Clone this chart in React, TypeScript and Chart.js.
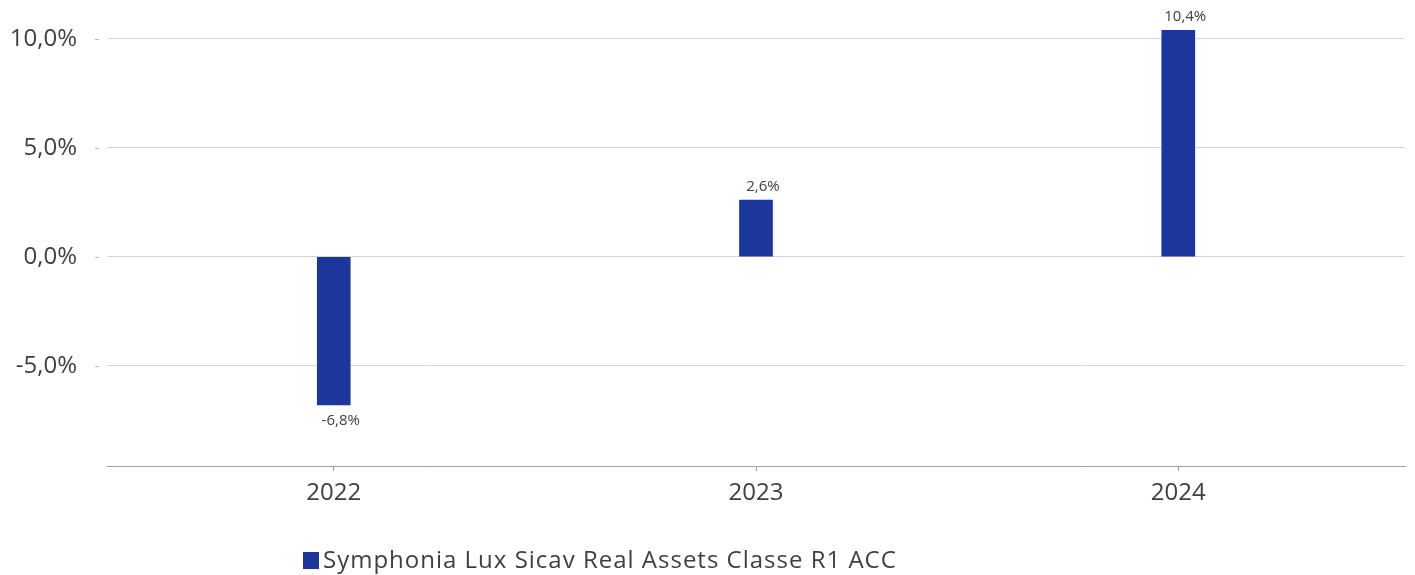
import { useEffect, useRef } from "react";
import { Chart, registerables } from "chart.js";

Chart.register(...registerables);

const years = ["2022", "2023", "2024"];
const returns = [-6.8, 2.6, 10.4];
const yTicks = [-5, 0, 5, 10];
const seriesLabel = "Symphonia Lux Sicav Real Assets Classe R1 ACC";
const yMin = -9.6;
const yMax = 10.4;
const xMin = -0.537;
const xMax = 2.537;

const barColor = "#1c369b";
const textColor = "#404040";
const fontFamily = "'Open Sans', 'DejaVu Sans', sans-serif";

const fmt = (v: number, d: number) => v.toFixed(d).replace(".", ",") + "%";

const yTickMarks = {
  id: "yTickMarks",
  afterDraw(chart: any) {
    const { ctx, chartArea, scales } = chart;
    ctx.save();
    ctx.strokeStyle = "#b8b8b8";
    ctx.lineWidth = 1;
    yTicks.forEach((v) => {
      const py = Math.round(scales.y.getPixelForValue(v)) + 0.5;
      ctx.beginPath();
      ctx.moveTo(chartArea.left - 12, py);
      ctx.lineTo(chartArea.left - 8, py);
      ctx.stroke();
    });
    ctx.restore();
  },
};

const dataLabels = {
  id: "dataLabels",
  afterDatasetsDraw(chart: any) {
    const { ctx } = chart;
    const meta = chart.getDatasetMeta(0);
    ctx.save();
    ctx.font = `15px ${fontFamily}`;
    ctx.fillStyle = textColor;
    ctx.textAlign = "center";
    ctx.textBaseline = "middle";
    meta.data.forEach((bar: any, i: number) => {
      const v = returns[i];
      const y = v >= 0 ? bar.y - 13 : bar.y + 16;
      ctx.fillText(fmt(v, 1), bar.x + 7, y);
    });
    ctx.restore();
  },
};

const customLegend = {
  id: "customLegend",
  afterDraw(chart: any) {
    const { ctx } = chart;
    const ds = chart.data.datasets[0];
    ctx.save();
    ctx.fillStyle = ds.backgroundColor;
    ctx.fillRect(295, 544, 16, 17);
    ctx.font = `24px ${fontFamily}`;
    (ctx as any).letterSpacing = "1px";
    ctx.fillStyle = textColor;
    ctx.textAlign = "left";
    ctx.textBaseline = "alphabetic";
    ctx.fillText(ds.label, 315, 560);
    ctx.restore();
  },
};

export default function App() {
  const ref = useRef<HTMLCanvasElement>(null);

  useEffect(() => {
    if (!ref.current) return;
    const chart = new Chart(ref.current, {
      type: "bar",
      data: {
        datasets: [
          {
            label: seriesLabel,
            data: returns.map((v, i) => ({ x: i, y: v })),
            backgroundColor: barColor,
            borderWidth: 0,
            barThickness: 33,
          } as any,
        ],
      },
      options: {
        animation: false,
        responsive: true,
        maintainAspectRatio: false,
        layout: { padding: { top: 22, right: 2, bottom: 0, left: 0 } },
        plugins: {
          legend: { display: false },
          tooltip: { enabled: false },
          title: { display: false },
        },
        scales: {
          x: {
            type: "linear",
            min: xMin,
            max: xMax,
            offset: false,
            afterBuildTicks: (axis: any) => {
              axis.ticks = years.map((_, i) => ({ value: i }));
            },
            afterFit: (axis: any) => {
              axis.height = 109;
              axis.paddingLeft = 0;
              axis.paddingRight = 0;
            },
            ticks: {
              callback: (v: any) => years[v as number],
              font: { size: 24, family: fontFamily },
              color: textColor,
              padding: 8,
              maxRotation: 0,
              autoSkip: false,
            },
            grid: {
              offset: false,
              drawOnChartArea: false,
              drawTicks: true,
              tickLength: 5,
              color: "#a0a0a0",
            },
            border: { display: true, color: "#a0a0a0", width: 1 },
          } as any,
          y: {
            min: yMin,
            max: yMax,
            afterBuildTicks: (axis: any) => {
              axis.ticks = yTicks.map((v) => ({ value: v }));
            },
            afterFit: (axis: any) => {
              axis.width = 99;
              axis.paddingTop = 0;
              axis.paddingBottom = 0;
            },
            ticks: {
              callback: (v: any) => fmt(v as number, 1),
              font: { size: 24, family: fontFamily },
              color: textColor,
              padding: 30,
            },
            grid: {
              color: "#d4d4d4",
              drawTicks: false,
            },
            border: { display: false },
          } as any,
        },
      },
      plugins: [yTickMarks, dataLabels, customLegend],
    });
    return () => chart.destroy();
  }, []);

  return (
    <div style={{ width: "100%", height: 567, position: "relative" }}>
      <canvas ref={ref} />
    </div>
  );
}
